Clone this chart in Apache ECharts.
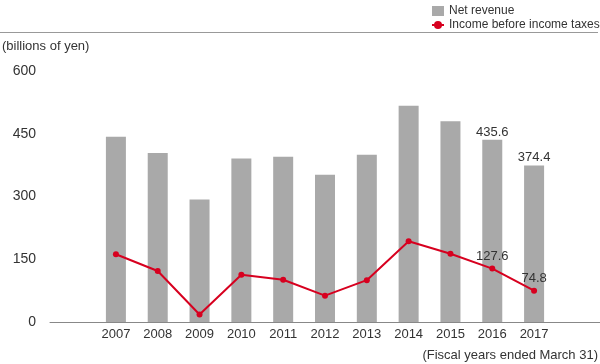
<!DOCTYPE html>
<html><head><meta charset="utf-8">
<script src="https://cdn.jsdelivr.net/npm/echarts@6/dist/echarts.min.js"></script>
<style>html,body{margin:0;padding:0;background:#fff}#c{width:600px;height:364px}</style>
</head><body><div id="c"></div>
<script>
var years = ['2007','2008','2009','2010','2011','2012','2013','2014','2015','2016','2017'];
var netRevenue = [443, 404, 293, 391, 395, 352, 400, 517, 480, 435.6, 374.4];
var incomeBeforeTax = [162, 122, 18, 113, 101, 63, 100, 193, 163, 127.6, 74.8];
var yTicks = [0, 150, 300, 450, 600];
var labeledYears = ['2016','2017'];

var font = '"Liberation Sans", Arial, Helvetica, sans-serif';
var chart = echarts.init(document.getElementById('c'), null, {renderer:'canvas'});

function withLabels(arr, offset) {
  return arr.map(function (v, i) {
    if (labeledYears.indexOf(years[i]) >= 0) {
      return { value: v, label: { show: true, position: 'top', distance: offset, color: '#333', fontSize: 13, fontFamily: font } };
    }
    return v;
  });
}

chart.setOption({
  animation: false,
  textStyle: { fontFamily: font, color: '#333' },
  legend: {
    orient: 'vertical', left: 426, top: 0, itemGap: 2,
    itemWidth: 12, itemHeight: 10,
    textStyle: { fontSize: 12, color: '#333', fontFamily: font },
    data: [
      { name: 'Net revenue', icon: 'rect' },
      { name: 'Income before income taxes' }
    ]
  },
  graphic: [
    { type: 'line', shape: { x1: 0, y1: 32.5, x2: 598, y2: 32.5 }, style: { stroke: '#999', lineWidth: 1 } },
    { type: 'text', left: 2, top: 40, style: { text: '(billions of yen)', fill: '#333', font: '13px ' + font } },
    { type: 'text', right: 2, top: 349, style: { text: '(Fiscal years ended March 31)', fill: '#333', font: '13px ' + font } }
  ],
  grid: [
    { left: 95, right: 45, top: 71, bottom: 42 },
    { left: 50, right: 0, top: 71, bottom: 42 }
  ],
  xAxis: [
    { type: 'category', gridIndex: 0, data: years,
      axisLine: { show: false }, axisTick: { show: false },
      axisLabel: { fontSize: 13, color: '#333', margin: 6, fontFamily: font } },
    { type: 'value', gridIndex: 1, min: 0, max: 1,
      axisLine: { show: true, lineStyle: { color: '#888', width: 1 } },
      axisTick: { show: false }, axisLabel: { show: false }, splitLine: { show: false } }
  ],
  yAxis: [
    { type: 'value', gridIndex: 0, min: yTicks[0], max: yTicks[yTicks.length-1], interval: 150,
      axisLine: { show: false }, axisTick: { show: false }, splitLine: { show: false },
      axisLabel: { fontSize: 14, color: '#333', margin: 59, fontFamily: font } },
    { type: 'value', gridIndex: 1, min: 0, max: 1, show: false }
  ],
  series: [
    { name: 'Net revenue', type: 'bar', xAxisIndex: 0, yAxisIndex: 0,
      data: withLabels(netRevenue, 1), barWidth: 20,
      itemStyle: { color: '#a9a9a9' } },
    { name: 'Income before income taxes', type: 'line', xAxisIndex: 0, yAxisIndex: 0,
      data: withLabels(incomeBeforeTax, 3),
      symbol: 'circle', symbolSize: 6,
      lineStyle: { color: '#d7001f', width: 2 },
      itemStyle: { color: '#d7001f' } }
  ]
});
</script></body></html>
